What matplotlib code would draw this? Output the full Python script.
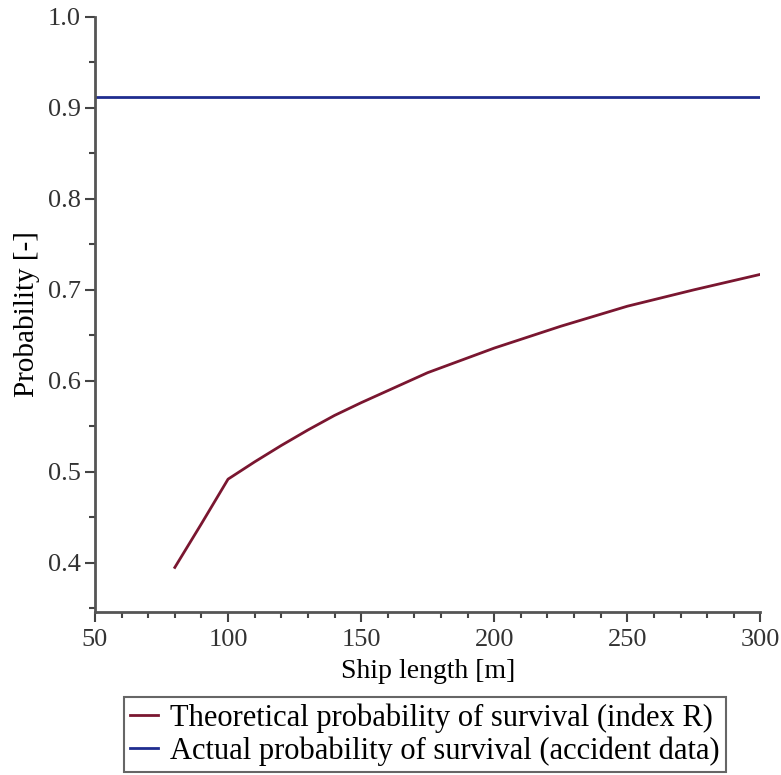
import matplotlib
matplotlib.use("Agg")
from matplotlib import pyplot as plt
from matplotlib.ticker import MultipleLocator

plt.rcParams['font.family'] = ['Liberation Serif', 'DejaVu Serif']

# Theoretical probability of survival (index R)
ship_length = [80, 90, 100, 110, 120, 130, 140, 150, 175, 200, 225, 250, 275, 300]
index_r = [0.395, 0.443, 0.492, 0.511, 0.529, 0.546, 0.562, 0.576, 0.609,
           0.636, 0.660, 0.682, 0.700, 0.717]

# Actual probability of survival (accident data)
actual_x = [50, 300]
actual_p = [0.912, 0.912]

yticks = [0.4, 0.5, 0.6, 0.7, 0.8, 0.9, 1.0]
ytick_labels = ['0.4', '0.5', '0.6', '0.7', '0.8', '0.9', '1.0']

fig = plt.figure(figsize=(7.81, 7.75), dpi=100)
ax = fig.add_axes([0.1216, 0.2103, 0.852, 0.768])

ax.plot(ship_length, index_r, color='#7a1630', lw=2,
        label='Theoretical probability of survival (index R)')
ax.plot(actual_x, actual_p, color='#1f2d8f', lw=2,
        label='Actual probability of survival (accident data)')

ax.set_xlim(50, 300)
ax.set_ylim(0.346, 1.0)
ax.xaxis.set_major_locator(MultipleLocator(50))
ax.xaxis.set_minor_locator(MultipleLocator(10))
ax.yaxis.set_minor_locator(MultipleLocator(0.05))
ax.set_yticks(yticks)
ax.set_yticklabels(ytick_labels)

for side in ['top', 'right']:
    ax.spines[side].set_visible(False)
for side in ['left', 'bottom']:
    ax.spines[side].set_color('#555555')
    ax.spines[side].set_linewidth(2)

ax.tick_params(which='major', length=7, width=1.5, color='#444444',
               labelsize=19, labelcolor='#333333', pad=3)
ax.tick_params(axis='x', which='major', pad=5)
ax.tick_params(which='minor', length=4, width=1.5, color='#444444')

ax.set_xlabel('Ship length [m]', fontsize=20, labelpad=6)
ax.set_ylabel('Probability [-]', fontsize=21, labelpad=6)

leg = ax.legend(loc='upper center', bbox_to_anchor=(0.496, -0.143), fontsize=22,
                handlelength=0.9, handletextpad=0.4, borderpad=0.2,
                labelspacing=0.12, fancybox=False, framealpha=1,
                edgecolor='#666666', borderaxespad=0)
leg.get_frame().set_linewidth(1.5)

plt.savefig("out.png", dpi=100)
